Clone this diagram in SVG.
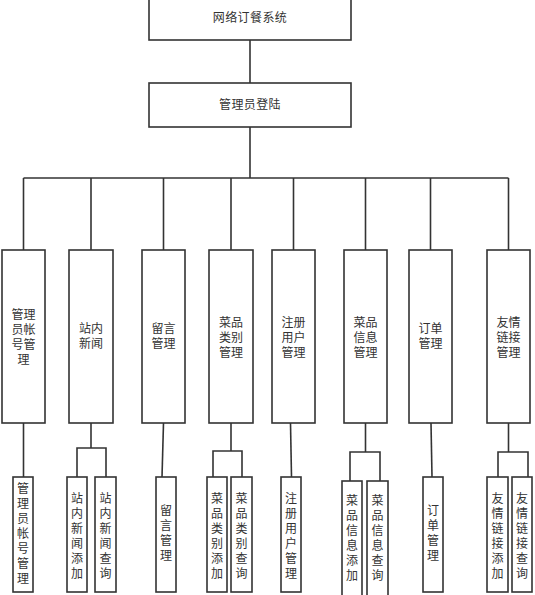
<svg xmlns="http://www.w3.org/2000/svg" width="535" height="595" viewBox="0 0 535 595">
<style>
.box{fill:#fff;stroke:#333;stroke-width:1.6}
.ln{fill:none;stroke:#333;stroke-width:1.6}
text{font-family:"Noto Sans CJK SC","Noto Sans",sans-serif;font-size:12px;fill:#333;text-anchor:middle}
.v{writing-mode:vertical-rl;letter-spacing:3px}
</style>
<rect width="535" height="595" fill="#fff"/>
<g id="connectors">
<line class="ln" x1="250" y1="40" x2="250" y2="83"/>
<line class="ln" x1="250" y1="127" x2="250" y2="178"/>
<line class="ln" x1="23.5" y1="178" x2="508.5" y2="178"/>
<line class="ln" x1="23.5" y1="178" x2="23.5" y2="250"/>
<line class="ln" x1="91" y1="178" x2="91" y2="250"/>
<line class="ln" x1="163.5" y1="178" x2="163.5" y2="250"/>
<line class="ln" x1="231" y1="178" x2="231" y2="250"/>
<line class="ln" x1="293.5" y1="178" x2="293.5" y2="250"/>
<line class="ln" x1="365.5" y1="178" x2="365.5" y2="250"/>
<line class="ln" x1="430.5" y1="178" x2="430.5" y2="250"/>
<line class="ln" x1="508.5" y1="178" x2="508.5" y2="250"/>
<line class="ln" x1="23.5" y1="423" x2="23.5" y2="477"/>
<polyline class="ln" points="91,423 91,448"/>
<polyline class="ln" points="77,477 77,448 106,448 106,477"/>
<line class="ln" x1="163.5" y1="423" x2="162" y2="477"/>
<polyline class="ln" points="231,423 231,451"/>
<polyline class="ln" points="213,477 213,451 242,451 242,477"/>
<line class="ln" x1="290.5" y1="423" x2="291.5" y2="477"/>
<polyline class="ln" points="365.5,423 365.5,452"/>
<polyline class="ln" points="350,481 350,452 380,452 380,481"/>
<line class="ln" x1="431" y1="423" x2="432" y2="477"/>
<polyline class="ln" points="508.5,423 508.5,452"/>
<polyline class="ln" points="498,477 498,452 528,452 528,477"/>
</g>
<g id="n-root"><rect class="box" x="149" y="-2" width="202" height="42"/><text x="250" y="22" letter-spacing="0.4">网络订餐系统</text></g>
<g id="n-login"><rect class="box" x="149" y="83" width="202" height="44"/><text x="250" y="109" letter-spacing="0.4">管理员登陆</text></g>
<g id="m1"><rect class="box" x="2" y="250" width="43" height="173"/><text x="23.5" y="318.5">管理<tspan x="23.5" dy="15">员帐</tspan><tspan x="23.5" dy="15">号管</tspan><tspan x="23.5" dy="15">理</tspan></text></g>
<g id="m2"><rect class="box" x="69" y="250" width="44" height="173"/><text x="91" y="332.5">站内<tspan x="91" dy="15">新闻</tspan></text></g>
<g id="m3"><rect class="box" x="142" y="250" width="43" height="173"/><text x="163.5" y="332.5">留言<tspan x="163.5" dy="15">管理</tspan></text></g>
<g id="m4"><rect class="box" x="209" y="250" width="44" height="173"/><text x="231" y="326.5">菜品<tspan x="231" dy="15">类别</tspan><tspan x="231" dy="15">管理</tspan></text></g>
<g id="m5"><rect class="box" x="272" y="250" width="43" height="173"/><text x="293.5" y="326.5">注册<tspan x="293.5" dy="15">用户</tspan><tspan x="293.5" dy="15">管理</tspan></text></g>
<g id="m6"><rect class="box" x="344" y="250" width="43" height="173"/><text x="365.5" y="326.5">菜品<tspan x="365.5" dy="15">信息</tspan><tspan x="365.5" dy="15">管理</tspan></text></g>
<g id="m7"><rect class="box" x="409" y="250" width="43" height="173"/><text x="430.5" y="332.5">订单<tspan x="430.5" dy="15">管理</tspan></text></g>
<g id="m8"><rect class="box" x="487" y="250" width="43" height="173"/><text x="508.5" y="326.5">友情<tspan x="508.5" dy="15">链接</tspan><tspan x="508.5" dy="15">管理</tspan></text></g>
<g id="s1"><rect class="box" x="13" y="477" width="20" height="115"/><text class="v" x="23" y="535">管理员帐号管理</text></g>
<g id="s2a"><rect class="box" x="67" y="477" width="20" height="115"/><text class="v" x="77" y="537">站内新闻添加</text></g>
<g id="s2b"><rect class="box" x="95" y="477" width="21" height="115"/><text class="v" x="105.5" y="537">站内新闻查询</text></g>
<g id="s3"><rect class="box" x="156" y="477" width="20" height="115"/><text class="v" x="166" y="534">留言管理</text></g>
<g id="s4a"><rect class="box" x="207" y="477" width="20" height="115"/><text class="v" x="217" y="537">菜品类别添加</text></g>
<g id="s4b"><rect class="box" x="231" y="477" width="21" height="115"/><text class="v" x="241.5" y="537">菜品类别查询</text></g>
<g id="s5"><rect class="box" x="281" y="477" width="20" height="115"/><text class="v" x="291" y="537">注册用户管理</text></g>
<g id="s6a"><rect class="box" x="342" y="481" width="20" height="118"/><text class="v" x="352" y="539">菜品信息添加</text></g>
<g id="s6b"><rect class="box" x="367" y="481" width="21" height="118"/><text class="v" x="377.5" y="539">菜品信息查询</text></g>
<g id="s7"><rect class="box" x="423" y="477" width="20" height="115"/><text class="v" x="433" y="534">订单管理</text></g>
<g id="s8a"><rect class="box" x="487" y="477" width="21" height="115"/><text class="v" x="497.5" y="537">友情链接添加</text></g>
<g id="s8b"><rect class="box" x="512" y="477" width="20" height="115"/><text class="v" x="522" y="537">友情链接查询</text></g>
</svg>
